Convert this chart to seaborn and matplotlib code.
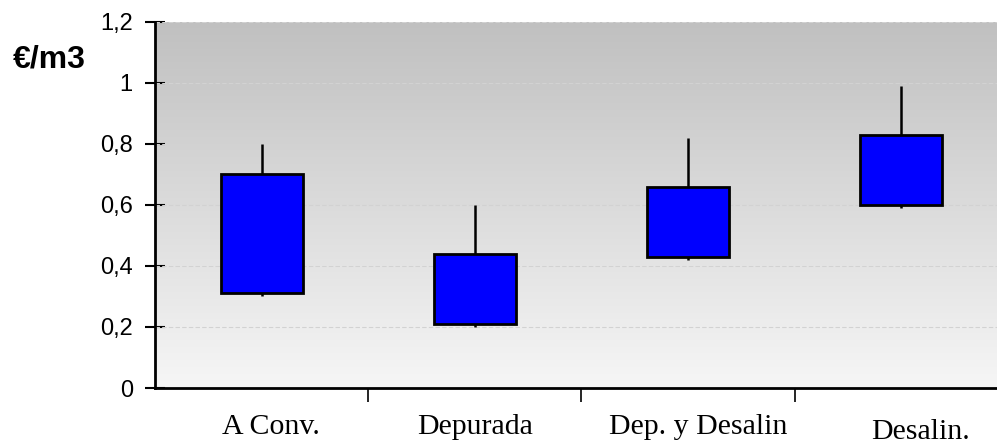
import numpy as np
import pandas as pd
import matplotlib
matplotlib.use("Agg")
import matplotlib.pyplot as plt
import matplotlib.transforms as mtransforms
import seaborn as sns

categories = ["A Conv.", "Depurada", "Dep. y Desalin", "Desalin."]
low_vals = [0.30, 0.20, 0.42, 0.59]
high_vals = [0.80, 0.60, 0.82, 0.99]
open_vals = [0.31, 0.21, 0.43, 0.60]
close_vals = [0.70, 0.44, 0.66, 0.83]
y_ticks = [0, 0.2, 0.4, 0.6, 0.8, 1.0, 1.2]
y_tick_labels = ["0", "0,2", "0,4", "0,6", "0,8", "1", "1,2"]

df = pd.DataFrame({
    "cat": categories,
    "low": low_vals,
    "high": high_vals,
    "open": open_vals,
    "close": close_vals,
})
df["body"] = df["close"] - df["open"]

sns.set_theme(style="white")
plt.rcParams["font.family"] = ["Liberation Sans", "DejaVu Sans"]

fig = plt.figure(figsize=(9.97, 4.46), dpi=100)
ax = fig.add_axes([0.1555, 0.130, 0.8445, 0.821])

# gradient background
grad = np.linspace(0, 1, 256).reshape(-1, 1)
cmap = matplotlib.colors.LinearSegmentedColormap.from_list("g", ["#f6f6f6", "#c0c0c0"])
ax.imshow(grad, aspect="auto", cmap=cmap, extent=[0, 1, 0, 1],
          transform=ax.transAxes, origin="lower", zorder=0)

# grid lines
for yv in y_ticks[1:]:
    ax.axhline(yv, color="#d2d2d2", lw=0.8, ls=(0, (4, 2)), zorder=1)

# whiskers (high-low lines)
sns.pointplot(data=df, x="cat", y="high", ax=ax, linestyle="none",
              markers="", errorbar=None)
ax.vlines(np.arange(len(categories)), df["low"], df["high"],
          color="black", lw=1.8, zorder=2)

# candle bodies
sns.barplot(data=df, x="cat", y="body", bottom=df["open"].values, ax=ax,
            color="#0000ff", saturation=1, width=0.385,
            edgecolor="black", linewidth=2, zorder=3)

ax.set_xlim(-0.5, 3.45)
ax.set_ylim(0, 1.2)
ax.set_yticks(y_ticks)
ax.set_yticklabels(y_tick_labels, fontsize=17, color="black")
ax.set_xlabel("")
ax.set_ylabel("")

ax.set_xticks(range(len(categories)))
ax.set_xticklabels(categories, fontfamily="Liberation Serif", fontsize=21.5, color="black")
ax.tick_params(axis="x", which="major", length=0, pad=18.5)
ax.set_xticks([0.5, 1.5, 2.5], minor=True)
ax.tick_params(axis="x", which="minor", length=10, width=1.2, color="black",
               direction="out", bottom=True)
ax.tick_params(axis="y", which="major", length=14, width=1.5, color="black",
               direction="inout", left=True, pad=9)

# per-label offsets
offsets = [(0.09, 0.0), (0.0, 0.0), (0.1, 0.0), (0.19, -0.05)]
for lbl, (dx, dy) in zip(ax.get_xticklabels(), offsets):
    lbl.set_transform(lbl.get_transform() + mtransforms.ScaledTranslation(dx, dy, fig.dpi_scale_trans))

for s in ["top", "right"]:
    ax.spines[s].set_visible(False)
for s in ["left", "bottom"]:
    ax.spines[s].set_visible(True)
    ax.spines[s].set_color("black")
    ax.spines[s].set_linewidth(2)
    ax.spines[s].set_zorder(5)

fig.text(13 / 997, 1 - 59 / 446, "€/m3", fontsize=23, fontweight="bold",
         ha="left", va="center", color="black")

fig.savefig("out.png", dpi=100)
